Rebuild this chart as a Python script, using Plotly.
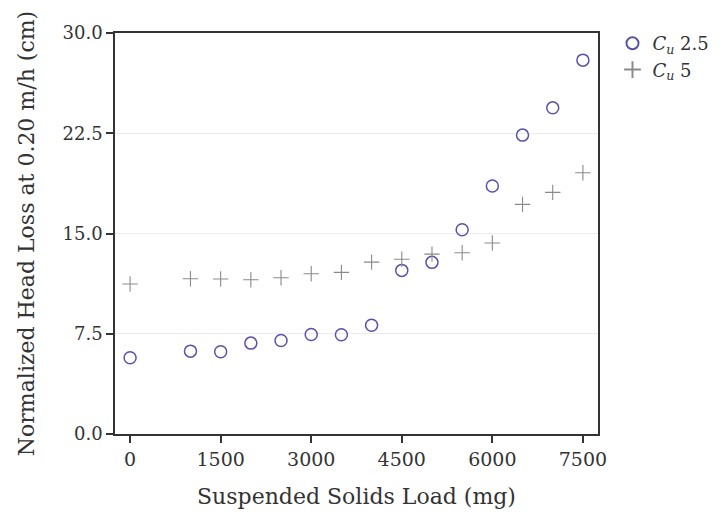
import plotly.graph_objects as go

load_mg = [0, 1000, 1500, 2000, 2500, 3000, 3500, 4000, 4500, 5000, 5500, 6000, 6500, 7000, 7500]
cu25 = [5.7, 6.2, 6.15, 6.8, 7.0, 7.45, 7.43, 8.13, 12.24, 12.84, 15.28, 18.55, 22.36, 24.4, 27.97]
cu5 = [11.22, 11.62, 11.6, 11.54, 11.69, 11.99, 12.09, 12.86, 13.07, 13.46, 13.56, 14.29, 17.18, 18.08, 19.55]
x_ticks = [0, 1500, 3000, 4500, 6000, 7500]
y_ticks = [0.0, 7.5, 15.0, 22.5, 30.0]

FONT = "DejaVu Serif, serif"
TXT = "#333"

fig = go.Figure()
fig.add_trace(go.Scatter(
    x=load_mg, y=cu25, mode="markers", name="<i>C<sub>u</sub></i> 2.5",
    marker=dict(symbol="circle-open", size=12, color="#5a52a8", line=dict(width=1.5)),
))
fig.add_trace(go.Scatter(
    x=load_mg, y=cu5, mode="markers", name="<i>C<sub>u</sub></i> 5",
    marker=dict(symbol="cross-thin-open", size=11, color="#8a8a8a", line=dict(width=1.1, color="#8a8a8a")),
))

fig.update_layout(
    width=723, height=518,
    margin=dict(l=115, r=125, t=33, b=84, autoexpand=False),
    paper_bgcolor="white", plot_bgcolor="white",
    font=dict(family=FONT, size=18, color=TXT),
    legend=dict(x=1.03, y=1.02, xanchor="left", yanchor="top",
                font=dict(family=FONT, size=18, color=TXT),
                bgcolor="rgba(0,0,0,0)", itemsizing="constant", tracegroupgap=0,
                itemwidth=30),
    xaxis=dict(
        range=[-250, 7750], tickvals=x_ticks, ticktext=[str(v) for v in x_ticks],
        tickfont=dict(size=19, family=FONT, color=TXT),
        showline=True, linecolor="#333", linewidth=1.5, mirror=True,
        ticks="outside", ticklen=7, tickcolor="#333", tickwidth=1.5,
        showgrid=False, zeroline=False, automargin=False,
        title=dict(text="Suspended Solids Load (mg)", font=dict(size=22, family=FONT, color=TXT), standoff=20),
    ),
    yaxis=dict(
        range=[0, 30], tickvals=y_ticks, ticktext=["%.1f" % v for v in y_ticks],
        tickfont=dict(size=18, family=FONT, color=TXT),
        showline=True, linecolor="#333", linewidth=1.5, mirror=True,
        ticks="outside", ticklen=7, tickcolor="#333", tickwidth=1.5,
        showgrid=True, gridcolor="#ececec", gridwidth=1, zeroline=False, automargin=False,
        title=dict(text="Normalized Head Loss at 0.20 m/h (cm)", font=dict(size=22, family=FONT, color=TXT), standoff=22),
    ),
)

fig.write_html("out.html")
